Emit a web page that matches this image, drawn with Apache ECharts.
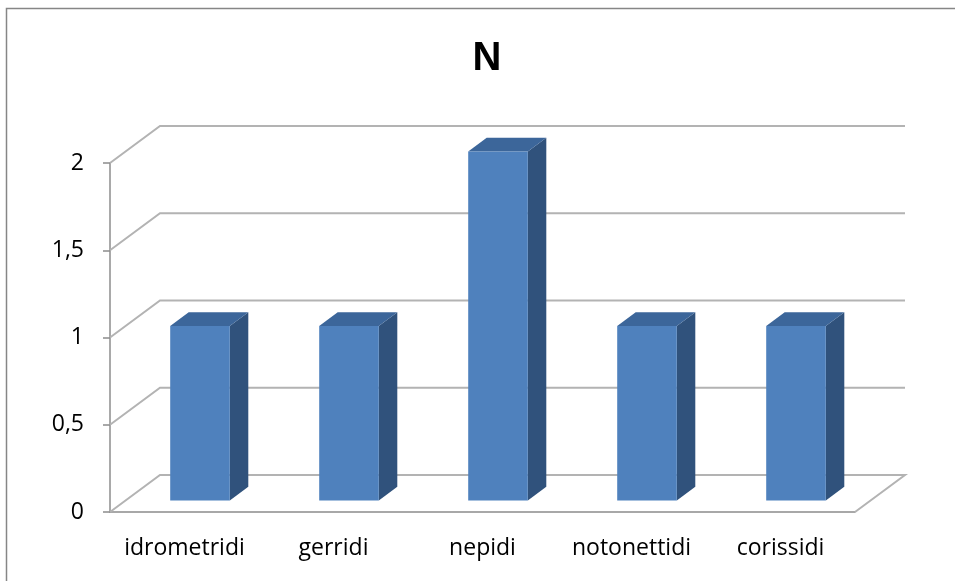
<!DOCTYPE html>
<html>
<head>
<meta charset="utf-8">
<script src="https://cdn.jsdelivr.net/npm/echarts@6/dist/echarts.min.js"></script>
<style>
  html, body { margin: 0; padding: 0; background: #fff; }
  #chart { width: 955px; height: 581px; }
</style>
</head>
<body>
<div id="chart"></div>
<script>
// dati del grafico
const categories = ["idrometridi", "gerridi", "nepidi", "notonettidi", "corissidi"]
const values = [1, 1, 2, 1, 1]
const gridValues = [0, 0.5, 1, 1.5, 2]

// profondità 3D (vettore della parete di fondo)
const DX = 50
const DY = -37
const BAR_D0 = 0.31   // inizio barra in profondità
const BAR_DD = 0.37   // spessore barra in profondità
const BAR_W = 0.40    // larghezza barra rispetto alla categoria

const chart = echarts.init(document.getElementById("chart"))

// linee della griglia in prospettiva
const renderGrid = (params, api) => {
  const cs = params.coordSys
  const v = api.value(1)
  const y = api.coord([0, v])[1]
  const x0 = cs.x
  const x1 = cs.x + cs.width
  const pts = [[x0, y], [x0 + DX, y + DY], [x1 + DX, y + DY]]
  if (v === 0) pts.push([x1, y])
  return {
    type: "polyline",
    shape: { points: pts },
    style: { stroke: "#b3b3b3", lineWidth: 2, fill: null }
  }
}

// colonne 3D
const renderBar = (params, api) => {
  const c0 = api.coord([api.value(0), 0])
  const c1 = api.coord([api.value(0), api.value(1)])
  const bw = api.size([1, 0])[0]
  const fw = bw * BAR_W
  const ox = DX * BAR_D0, oy = DY * BAR_D0
  const sx = DX * BAR_DD, sy = DY * BAR_DD
  const xl = c0[0] - fw / 2 + ox
  const xr = xl + fw
  const yb = c0[1] + oy
  const yt = c1[1] + oy
  return {
    type: "group",
    children: [
      {
        type: "polygon",
        shape: { points: [[xr, yt], [xr + sx, yt + sy], [xr + sx, yb + sy], [xr, yb]] },
        style: { fill: "#30527c" }
      },
      {
        type: "polygon",
        shape: { points: [[xl, yt], [xr, yt], [xr + sx, yt + sy], [xl + sx, yt + sy]] },
        style: { fill: "#3c669a" }
      },
      {
        type: "rect",
        shape: { x: xl, y: yt, width: fw, height: yb - yt },
        style: { fill: "#4f81bd" }
      }
    ]
  }
}

chart.setOption({
  animation: false,
  textStyle: { fontFamily: "Open Sans" },
  graphic: [
    {
      type: "rect",
      shape: { x: 6.5, y: 8.5, width: 1200, height: 1200 },
      style: { fill: null, stroke: "#868686", lineWidth: 1.5 },
      silent: true
    },
    {
      type: "text",
      x: 487,
      y: 39,
      style: {
        text: "N",
        font: "bold 40px 'Liberation Sans'",
        fill: "#000",
        textAlign: "center"
      }
    }
  ],
  grid: { left: 110, right: 100, top: 163, bottom: 69 },
  xAxis: {
    type: "category",
    data: categories,
    axisLine: { lineStyle: { color: "#8c8c8c", width: 1.5 } },
    axisTick: { length: 7, lineStyle: { color: "#8c8c8c", width: 1.5 } },
    axisLabel: {
      color: "#000",
      fontSize: 23,
      margin: 25,
      interval: 0,
      hideOverlap: false,
      fontFamily: "Open Sans"
    },
    splitLine: { show: false }
  },
  yAxis: {
    type: "value",
    min: 0,
    max: 2,
    interval: 0.5,
    axisLine: { show: true, lineStyle: { color: "#8c8c8c", width: 1.5 } },
    axisTick: { show: true, length: 7, lineStyle: { color: "#8c8c8c", width: 1.5 } },
    axisLabel: {
      color: "#000",
      fontSize: 23,
      margin: 26,
      fontFamily: "Open Sans",
      formatter: v => String(v).replace(".", ",")
    },
    splitLine: { show: false }
  },
  series: [
    {
      type: "custom",
      renderItem: renderGrid,
      data: gridValues.map(v => [0, v]),
      z: 1,
      silent: true
    },
    {
      type: "custom",
      renderItem: renderBar,
      data: values.map((v, i) => [i, v]),
      z: 3
    }
  ]
})
</script>
</body>
</html>
